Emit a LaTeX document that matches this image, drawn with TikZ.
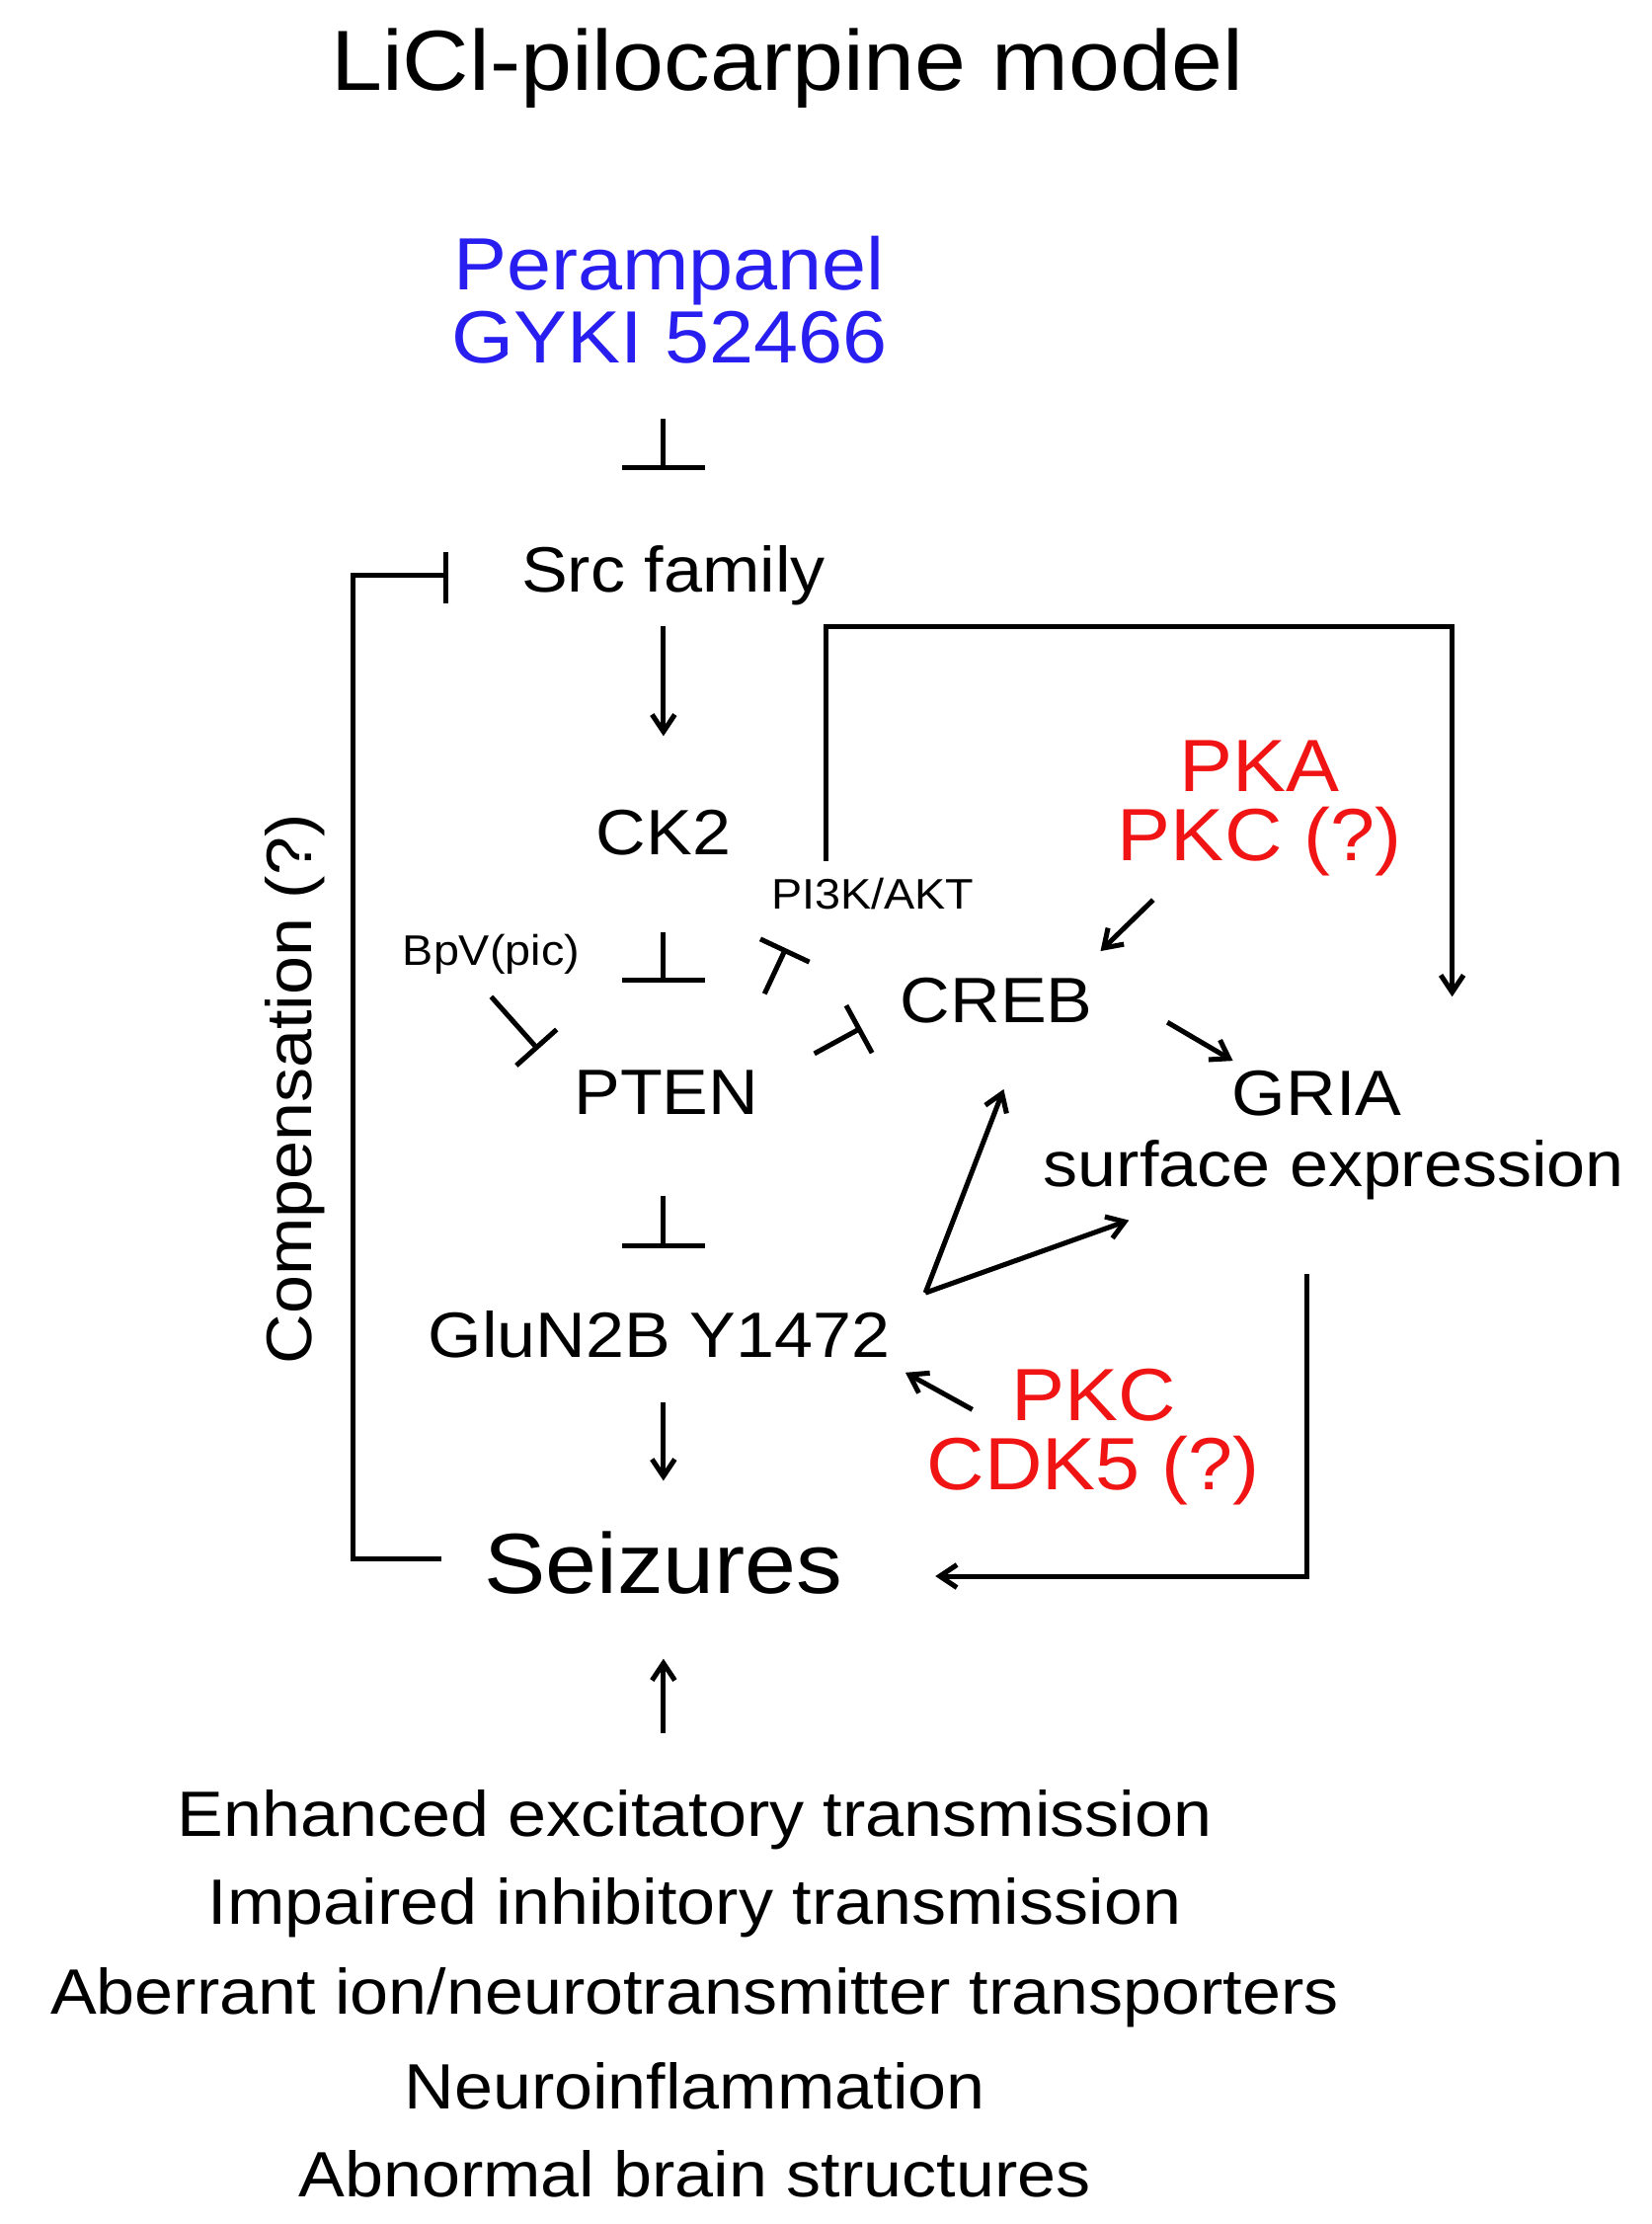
\documentclass[tikz,border=0pt]{standalone}
\usepackage{fontspec}
\setmainfont{Liberation Sans}[FakeStretch=1.08]
\usetikzlibrary{arrows.meta}
\definecolor{myblue}{RGB}{40,30,240}
\definecolor{myred}{RGB}{240,20,20}
\begin{document}
\begin{tikzpicture}[x=1pt,y=-1pt,
  lbl/.style={font=\fontsize{45}{49}\selectfont,inner sep=0pt},
  big/.style={font=\fontsize{60}{64}\selectfont,inner sep=0pt},
  sml/.style={font=\fontsize{30}{32}\selectfont,inner sep=0pt},
  col/.style={font=\fontsize{52}{56}\selectfont,inner sep=0pt},
  ln/.style={line width=3.5pt},
  arr/.style={line width=3.5pt,-{Straight Barb[length=12pt,width=16pt,line width=3.5pt]}},
  tee/.style={line width=3.5pt,-{Bar[width=58pt,line width=3.5pt]}},
  stee/.style={line width=3.5pt,-{Bar[width=38pt,line width=3.5pt]}}]
\useasboundingbox (0,0) rectangle (1160,1562);
\node[big] (title) at (553,48) {LiCl-pilocarpine model};
\node[col,text=myblue] (per) at (470,190) {Perampanel};
\node[col,text=myblue] (gyki) at (470,237) {GYKI 52466};
\node[lbl] (src) at (473,404) {Src family};
\node[lbl] (ck2) at (466,585) {CK2};
\node[lbl] (pten) at (468,767) {PTEN};
\node[sml] (bpv) at (345,670) {BpV(pic)};
\node[sml] (pi3k) at (613,628) {PI3K/AKT};
\node[lbl] (creb) at (700,703) {CREB};
\node[col,text=myred] (pka) at (885,538) {PKA};
\node[col,text=myred] (pkc1) at (885,591) {PKC (?)};
\node[lbl] (gria) at (925,768) {GRIA};
\node[lbl] (surf) at (937,822) {surface expression};
\node[lbl] (glun) at (463,937) {GluN2B Y1472};
\node[col,text=myred] (pkc2) at (768,980) {PKC};
\node[col,text=myred] (cdk5) at (768,1033) {CDK5 (?)};
\node[big] (seiz) at (466,1098) {Seizures};
\node[lbl,rotate=90] (comp) at (207,765) {Compensation (?)};
\node[lbl] (b1) at (488,1278) {Enhanced excitatory transmission};
\node[lbl] (b2) at (488,1340) {Impaired inhibitory transmission};
\node[lbl] (b3) at (488,1403) {Aberrant ion/neurotransmitter transporters};
\node[lbl] (b4) at (488,1465) {Neuroinflammation};
\node[lbl] (b5) at (488,1527) {Abnormal brain structures};
% inhibitions
\draw[tee] (466,294) -- (466,330);
\draw[tee] (466,655) -- (466,690);
\draw[tee] (466,840) -- (466,877);
\draw[stee] (345,700) -- (378,737);
\draw[stee] (537,698) -- (552,666);
\draw[stee] (572,740) -- (605,722);
% feedback
\draw[ln] (310,1095) -- (248,1095) -- (248,404) -- (313,404);
\draw[ln] (313,388) -- (313,424);
% arrows
\draw[arr] (466,440) -- (466,517);
\draw[arr] (580,605) -- (580,440) -- (1020,440) -- (1020,700);
\draw[arr] (810,632) -- (773,668);
\draw[arr] (820,718) -- (866,745);
\draw[arr] (650,908) -- (705,765);
\draw[arr] (650,908) -- (793,857);
\draw[arr] (683,990) -- (636,964);
\draw[arr] (466,985) -- (466,1040);
\draw[arr] (918,895) -- (918,1107) -- (657,1107);
\draw[arr] (466,1217) -- (466,1165);
\end{tikzpicture}
\end{document}
